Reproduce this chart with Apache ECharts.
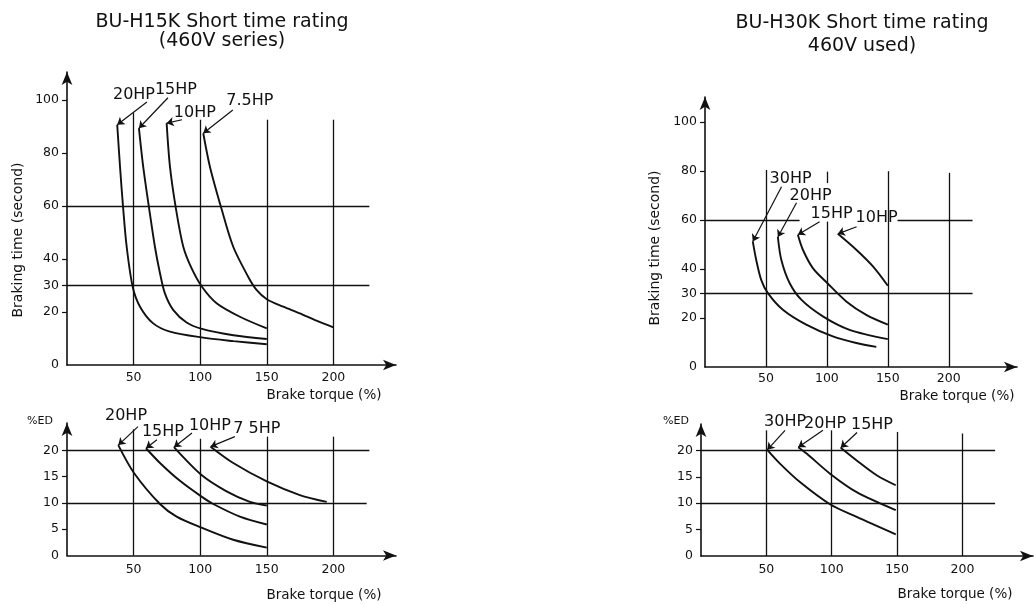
<!DOCTYPE html>
<html><head><meta charset="utf-8">
<script src="https://cdn.jsdelivr.net/npm/echarts@6/dist/echarts.min.js"></script>
<style>html,body{margin:0;padding:0;background:#fff}#c{width:1034px;height:604px}</style>
</head><body><div id="c"></div><script>
// ---------------- DATA ----------------
const torqueTicks = [50, 100, 150, 200];
const timeTicks = [0, 20, 30, 40, 60, 80, 100];
const edTicks = [0, 5, 10, 15, 20];

// BU-H15K braking time (torque %, seconds)
const h15TimeNames = ['20HP', '15HP', '10HP', '7.5HP'];
const h15Time20 = [[37.7,90.6],[39.8,74.8],[42.2,58.9],[44.8,44.6],[49.3,29.5],[54.8,22],[64.7,15.7],[77.3,12.6],[101,10.4],[125,9],[150,7.8]];
const h15Time15 = [[54,89.3],[57.2,74.8],[61.7,58.9],[66,44.6],[69.8,34.6],[73.5,27],[79.7,20.8],[89.8,16],[101.3,13.6],[125,11.2],[150,9.8]];
const h15Time10 = [[74.8,91.2],[77.3,74.8],[81.8,58.9],[87.3,44.6],[93.5,36.5],[101.3,29.5],[112.3,23.3],[129.8,18.2],[150,13.8]];
const h15Time7_5 = [[102.3,87.4],[107.3,74.8],[116,58.9],[124.8,44.6],[136,33.3],[142.3,28.3],[150,24.8],[162.3,22],[174.8,19.5],[187.3,16.7],[200,14.2]];

// BU-H15K %ED (torque %, %ED)
const h15EdNames = ['20HP', '15HP', '10HP', '7 5HP'];
const h15Ed20 = [[38.5,21],[50.3,15.7],[69.8,9.8],[82.3,7.4],[101,5.3],[124.8,3],[150,1.5]];
const h15Ed15 = [[59.3,20.4],[69.8,17.6],[84.8,14.2],[101,11.2],[109.8,9.8],[129.8,7.4],[150,5.9]];
const h15Ed10 = [[80.3,20.6],[101,15.3],[119.8,12.2],[137.3,10.2],[150,9.5]];
const h15Ed7_5 = [[107.8,20.7],[124.8,17.6],[150,14.1],[174.8,11.5],[195,10.2]];

// BU-H30K braking time
const h30TimeNames = ['30HP', '20HP', '15HP', '10HP'];
const h30Time30 = [[39.2,51.3],[42,43.8],[46.1,35.6],[51.6,30.2],[63.9,23.4],[83.1,17.3],[104.9,12.5],[124.1,9.8],[140.6,8.2]];
const h30Time20 = [[59.8,53.1],[62.6,43.8],[69.4,34.3],[79,27.5],[96.7,20.7],[118.6,15.2],[150,11.4]];
const h30Time15 = [[76.2,54],[80.3,47.9],[88.5,40.4],[100.3,34.3],[115.9,26.8],[132.3,21.3],[150,17.3]];
const h30Time10 = [[109,54.4],[124.1,47.9],[137.8,41.1],[150,33.2]];

// BU-H30K %ED
const h30EdNames = ['30HP', '20HP', '15HP'];
const h30Ed30 = [[50.7,20.1],[60.4,17.5],[75.7,14],[98.7,9.8],[119.1,7.4],[149,4.1]];
const h30Ed20 = [[74.4,20.6],[80.8,19.4],[98.7,15.6],[119.1,12.1],[149,8.7]];
const h30Ed15 = [[106.9,20.5],[119.1,18.1],[134.4,15.3],[149,13.4]];

// ---------------- LAYOUT / ANNOTATIONS ----------------
const FONT = 'DejaVu Sans';
const INK = '#111';
// label anchor and leader start (data coords of each panel)
const notes = [
  [{t:[50.3,101.9], f:[60,99.2]}, {t:[81.8,103.8], f:[75.8,100.8]}, {t:[96,95.1], f:[86.3,92.5]}, {t:[137.3,99.6], f:[124.5,96.2]}],
  [{t:[44.3,26.6], f:[53.3,24.5]}, {t:[72,23.5], f:[67.5,22]}, {t:[107.3,24.7], f:[93.8,23.3]}, {t:[142.5,24.1], f:[126,22.6]}],
  [{t:[70.2,76.9], f:[62.8,73.6]}, {t:[86.6,69.9], f:[75.1,67.1]}, {t:[103.9,62.6], f:[94,59.3]}, {t:[140.8,61], f:[124.4,57.3]}],
  [{t:[64.3,25.5], f:[64.3,23.8]}, {t:[94.9,25.1], f:[93.3,23.8]}, {t:[130.8,24.9], f:[119.4,23.4]}]
];
// guide lines per panel: [[x1,y1],[x2,y2]]
const guides = [
  [[[50,0],[50,95]],[[100,0],[100,92.5]],[[150,0],[150,92.5]],[[200,0],[200,92.5]],[[0,60],[227,60]],[[0,30],[227,30]]],
  [[[50,0],[50,24]],[[100,0],[100,22.2]],[[150,0],[150,22.6]],[[200,0],[200,22.6]],[[0,20],[227,20]],[[0,10],[225,10]]],
  [[[50,0],[50,80.5]],[[100,0],[100,59.4]],[[100,75.1],[100,79.8]],[[150,0],[150,80]],[[200,0],[200,79.3]],
   [[0,60],[77.6,60]],[[158,60],[219.5,60]],[[0,30],[219.5,30]]],
  [[[50,0],[50,23.8]],[[100,0],[100,23.8]],[[150,0],[150,23.5]],[[200,0],[200,23.2]],[[0,20],[225,20]],[[0,10],[225,10]]]
];

const panels = [
  {curves:[h15Time20,h15Time15,h15Time10,h15Time7_5], names:h15TimeNames, grid:{left:67, top:72, width:329, height:293}, xMax:247, yMax:110.5, yTicks:timeTicks, xMargin:6},
  {curves:[h15Ed20,h15Ed15,h15Ed10,h15Ed7_5], names:h15EdNames, grid:{left:67, top:423, width:329, height:132.5}, xMax:247, yMax:25.2, yTicks:edTicks, xMargin:8},
  {curves:[h30Time30,h30Time20,h30Time15,h30Time10], names:h30TimeNames, grid:{left:705, top:97, width:312, height:270}, xMax:256, yMax:110.3, yTicks:timeTicks, xMargin:5},
  {curves:[h30Ed30,h30Ed20,h30Ed15], names:h30EdNames, grid:{left:701, top:424, width:332, height:132}, xMax:254, yMax:25, yTicks:edTicks, xMargin:7}
];

const grids = [], xAxes = [], yAxes = [], series = [];
panels.forEach((p, gi) => {
  grids.push(Object.assign({containLabel:false}, p.grid));
  xAxes.push({type:'value', gridIndex:gi, min:0, max:p.xMax,
    axisLine:{show:true, symbol:['none','arrow'], symbolSize:[8,13], lineStyle:{color:INK, width:1.6}},
    axisTick:{show:false}, splitLine:{show:false},
    axisLabel:{customValues:torqueTicks, color:INK, fontSize:12.5, fontFamily:FONT, margin:p.xMargin}});
  yAxes.push({type:'value', gridIndex:gi, min:0, max:p.yMax,
    axisLine:{show:true, symbol:['none','arrow'], symbolSize:[8,13], lineStyle:{color:INK, width:1.6}},
    axisTick:{show:true, customValues:p.yTicks.filter(v => v > 0), length:5, lineStyle:{color:INK, width:1.2}},
    splitLine:{show:false},
    axisLabel:{customValues:p.yTicks, color:INK, fontSize:12.5, fontFamily:FONT, margin:8}});
  // guide lines
  series.push({type:'line', xAxisIndex:gi, yAxisIndex:gi, data:[], silent:true, clip:false,
    markLine:{silent:true, symbol:'none', animation:false, label:{show:false},
      lineStyle:{color:INK, width:1.3, type:'solid'}, emphasis:{disabled:true},
      data: guides[gi].map(s => [{coord:s[0]}, {coord:s[1]}])}});
  p.curves.forEach((c, ci) => {
    const n = notes[gi][ci];
    series.push({type:'line', name:p.names[ci], xAxisIndex:gi, yAxisIndex:gi, data:c,
      smooth:0.3, showSymbol:false, clip:false, silent:true, animation:false,
      lineStyle:{color:INK, width:1.9},
      markLine:{silent:true, animation:false, symbol:['none','arrow'], symbolSize:7, label:{show:false},
        lineStyle:{color:INK, width:1.2, type:'solid'}, emphasis:{disabled:true},
        data:[[{coord:n.f}, {coord:c[0]}]]}
    });
  });
});

const txt = (x, y, text, size, extra) => Object.assign({type:'text', x, y, silent:true,
  style:{text, fill:INK, font:size + 'px "' + FONT + '"', textAlign:'center', textVerticalAlign:'middle'}}, extra || {});

const graphic = [
  txt(222, 22, 'BU-H15K Short time rating', 19),
  txt(222, 41, '(460V series)', 19),
  txt(862, 23, 'BU-H30K Short time rating', 19),
  txt(862, 46, '460V used)', 19),
  txt(18, 240, 'Braking time (second)', 14, {rotation:Math.PI/2}),
  txt(655, 248, 'Braking time (second)', 14, {rotation:Math.PI/2}),
  txt(324, 395, 'Brake torque (%)', 13.5),
  txt(324, 595, 'Brake torque (%)', 13.5),
  txt(957, 396, 'Brake torque (%)', 13.5),
  txt(955, 594, 'Brake torque (%)', 13.5),
  txt(40, 421, '%ED', 11),
  txt(676, 421, '%ED', 11)
];

const chart = echarts.init(document.getElementById('c'), null, {renderer:'canvas'});
chart.setOption({backgroundColor:'#fff', animation:false, grid:grids, xAxis:xAxes, yAxis:yAxes, series, graphic});

// HP labels placed through each panel's own axes
panels.forEach((p, gi) => {
  p.names.forEach((name, ci) => {
    const pt = chart.convertToPixel({gridIndex:gi}, notes[gi][ci].t);
    graphic.push(txt(pt[0], pt[1], name, 16));
  });
});
chart.setOption({graphic});
</script></body></html>
